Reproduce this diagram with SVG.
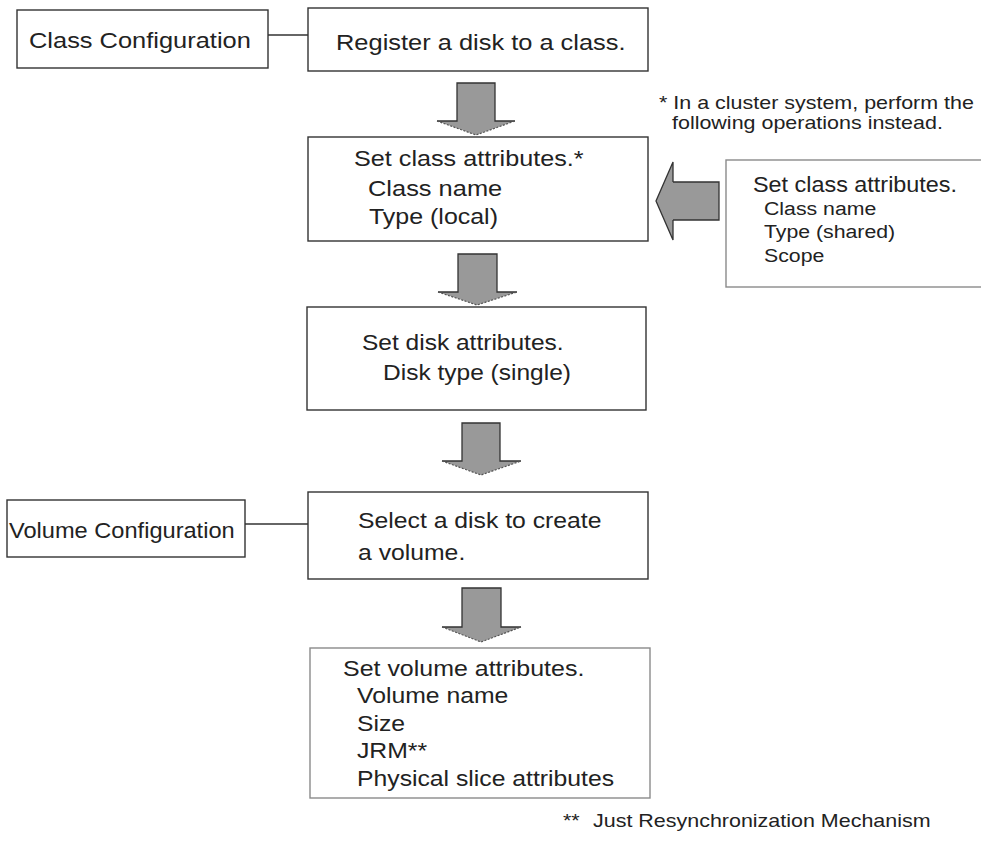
<svg xmlns="http://www.w3.org/2000/svg" width="981" height="841" viewBox="0 0 981 841">
<style>
text{font-family:"Liberation Sans",Arial,sans-serif;fill:#222;}
.b{fill:#fff;stroke:#333;stroke-width:1.4;}
.g{fill:#fff;stroke:#8a8a8a;stroke-width:1.4;}
.t{font-size:22.5px;}
.v{font-size:22.5px;}
.s{font-size:22.5px;}
.n{font-size:19px;}
.af{fill:#999;stroke:none;}
.as{fill:none;stroke:#333;stroke-width:1.3;}
.ad{fill:none;stroke:#555;stroke-width:1.2;stroke-dasharray:2 1.5;}
.ln{stroke:#333;stroke-width:1.4;fill:none;}
</style>
<rect width="981" height="841" fill="#fff"/>
<g id="connectors">
<line class="ln" x1="268" y1="35" x2="308" y2="35"/>
<line class="ln" x1="245" y1="524" x2="308" y2="524"/>
<g id="arrow1">
<polygon class="af" points="457,83 495,83 495,121 515,121 476,135 437,121 457,121"/>
<path class="as" d="M437,121 L457,121 L457,83 L495,83 L495,121 L515,121"/>
<path class="ad" d="M437,121 L476,135 L515,121"/>
</g>
<g id="arrow2">
<polygon class="af" points="458,254 497,254 497,292 517,292 477,305 438,292 458,292"/>
<path class="as" d="M438,292 L458,292 L458,254 L497,254 L497,292 L517,292"/>
<path class="ad" d="M438,292 L477,305 L517,292"/>
</g>
<g id="arrow3">
<polygon class="af" points="462,423 500,423 500,461 521,461 481,475 442,461 462,461"/>
<path class="as" d="M442,461 L462,461 L462,423 L500,423 L500,461 L521,461"/>
<path class="ad" d="M442,461 L481,475 L521,461"/>
</g>
<g id="arrow4">
<polygon class="af" points="462,588 501,588 501,627 521,627 481,642 442,627 462,627"/>
<path class="as" d="M442,627 L462,627 L462,588 L501,588 L501,627 L521,627"/>
<path class="ad" d="M442,627 L481,642 L521,627"/>
</g>
<g id="arrow-left">
<polygon class="af" points="719,182 719,220 673,220 673,240 656,201 673,162 673,182"/>
<path class="as" d="M673,182 L719,182 L719,220 L673,220"/>
<path class="as" stroke-width="1" d="M673,220 L673,240 L656,201 L673,162 L673,182"/>
</g>
</g>
<g id="class-config">
<rect class="b" x="17" y="10" width="251" height="58"/>
<text class="t" transform="translate(29,48) scale(1.13,1)">Class Configuration</text>
</g>
<g id="register">
<rect class="b" x="308" y="8" width="340" height="63"/>
<text class="t" transform="translate(336,50) scale(1.13,1)">Register a disk to a class.</text>
</g>
<g id="class-attr">
<rect class="b" x="308" y="137" width="340" height="104"/>
<text class="t" transform="translate(354,166) scale(1.12,1)">Set class attributes.*</text>
<text class="t" transform="translate(368,196) scale(1.13,1)">Class name</text>
<text class="t" transform="translate(369,224) scale(1.11,1)">Type (local)</text>
</g>
<g id="cluster-note">
<text class="n" transform="translate(659,109) scale(1.13,1)">* In a cluster system, perform the</text>
<text class="n" transform="translate(672,129) scale(1.13,1)">following operations instead.</text>
</g>
<g id="shared-attr">
<rect class="g" x="726" y="160" width="260" height="127"/>
<text class="s" transform="translate(753,192) scale(1.04,1)">Set class attributes.</text>
<text class="n" transform="translate(764,215) scale(1.12,1)">Class name</text>
<text class="n" transform="translate(764,238) scale(1.12,1)">Type (shared)</text>
<text class="n" transform="translate(764,262) scale(1.12,1)">Scope</text>
</g>
<g id="disk-attr">
<rect class="b" x="307" y="307" width="339" height="103"/>
<text class="t" transform="translate(362,350) scale(1.09,1)">Set disk attributes.</text>
<text class="t" transform="translate(383,380) scale(1.09,1)">Disk type (single)</text>
</g>
<g id="volume-config">
<rect class="b" x="7" y="500" width="238" height="57"/>
<text class="v" transform="translate(9,538) scale(1.05,1)">Volume Configuration</text>
</g>
<g id="select-disk">
<rect class="b" x="308" y="492" width="340" height="87"/>
<text class="t" transform="translate(358,528) scale(1.1,1)">Select a disk to create</text>
<text class="t" transform="translate(358,560) scale(1.1,1)">a volume.</text>
</g>
<g id="volume-attr">
<rect class="g" x="310" y="648" width="340" height="150"/>
<text class="t" transform="translate(343,676) scale(1.11,1)">Set volume attributes.</text>
<text class="t" transform="translate(357,703) scale(1.1,1)">Volume name</text>
<text class="t" transform="translate(357,731) scale(1.1,1)">Size</text>
<text class="t" transform="translate(357,758) scale(1.1,1)">JRM**</text>
<text class="t" transform="translate(357,786) scale(1.1,1)">Physical slice attributes</text>
</g>
<g id="jrm-note">
<text class="n" transform="translate(563,827) scale(1.13,1)">**</text>
<text class="n" transform="translate(593,827) scale(1.13,1)">Just Resynchronization Mechanism</text>
</g>
</svg>
